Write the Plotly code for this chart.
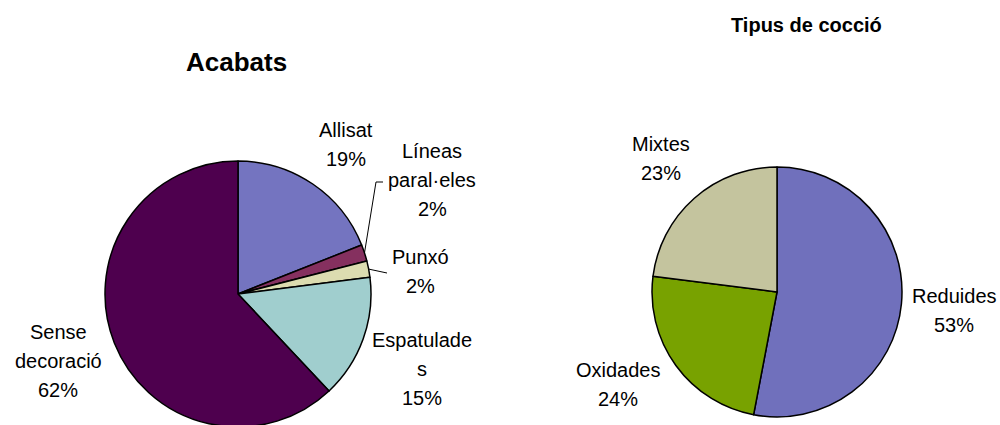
import math
import plotly.graph_objects as go

# ---- data ----
acabats_labels = ["Allisat", "Líneas paral·eles", "Punxó", "Espatulades", "Sense decoració"]
acabats_values = [19, 2, 2, 15, 62]
acabats_colors = ["#7474c0", "#85305f", "#dcdcb0", "#a0cece", "#4e004e"]

coccio_labels = ["Reduides", "Oxidades", "Mixtes"]
coccio_values = [53, 24, 23]
coccio_colors = ["#7070bc", "#78a200", "#c4c49e"]

# displayed (wrapped) label lines as they appear on the chart
acabats_disp = [["Allisat"], ["Líneas", "paral·eles"], ["Punxó"], ["Espatulade", "s"], ["Sense", "decoració"]]
coccio_disp = [["Reduides"], ["Oxidades"], ["Mixtes"]]

# ---- layout geometry (pixels) ----
W, H = 1000, 428
FONT = "Liberation Sans, Arial, sans-serif"
FS = 20
LH = 29

# label block centres (x, y of first line)
acabats_pos = [(346, 130), (432, 151), (420, 257), (422, 340), (58, 332)]
coccio_pos = [(954, 296), (618, 370), (661, 144)]

left_c, left_r = (238, 294), 133
right_c, right_r = (777, 292), 125


def dom(c, r):
    return dict(x=[(c[0] - r) / W, (c[0] + r) / W],
                y=[max(0, (H - c[1] - r) / H), (H - c[1] + r) / H])


fig = go.Figure()
fig.add_trace(go.Pie(labels=acabats_labels, values=acabats_values, sort=False,
                     direction="clockwise", rotation=0, textinfo="none",
                     marker=dict(colors=acabats_colors, line=dict(color="black", width=1.5)),
                     domain=dom(left_c, left_r), showlegend=False, hoverinfo="label+percent"))
fig.add_trace(go.Pie(labels=coccio_labels, values=coccio_values, sort=False,
                     direction="clockwise", rotation=0, textinfo="none",
                     marker=dict(colors=coccio_colors, line=dict(color="black", width=1.5)),
                     domain=dom(right_c, right_r), showlegend=False, hoverinfo="label+percent"))

annotations = []


def add_lines(lines, x, y):
    for i, t in enumerate(lines):
        annotations.append(dict(x=x / W, y=1 - (y + i * LH) / H, xref="paper", yref="paper",
                                text=t, showarrow=False, xanchor="center", yanchor="middle",
                                font=dict(family=FONT, size=FS, color="black")))


tot = sum(acabats_values)
for disp, v, (x, y) in zip(acabats_disp, acabats_values, acabats_pos):
    add_lines(disp + [f"{round(v / tot * 100)}%"], x, y)

tot2 = sum(coccio_values)
for disp, v, (x, y) in zip(coccio_disp, coccio_values, coccio_pos):
    add_lines(disp + [f"{round(v / tot2 * 100)}%"], x, y)

# titles
annotations.append(dict(x=236 / W, y=1 - 62 / H, xref="paper", yref="paper", text="<b>Acabats</b>",
                        showarrow=False, xanchor="center", yanchor="middle",
                        font=dict(family=FONT, size=26, color="black")))
annotations.append(dict(x=806 / W, y=1 - 25 / H, xref="paper", yref="paper", text="<b>Tipus de cocció</b>",
                        showarrow=False, xanchor="center", yanchor="middle",
                        font=dict(family=FONT, size=20, color="black")))

# leader lines for the two small slices, starting at the slice edge midpoints
shapes = []
cum = 0
leader_ends = {1: [(376, 182), (383, 182)], 2: [(387, 273)]}
for i, v in enumerate(acabats_values):
    mid = (cum + v / 2) / tot * 2 * math.pi
    cum += v
    if i in leader_ends:
        sx = left_c[0] + left_r * math.sin(mid)
        sy = left_c[1] - left_r * math.cos(mid)
        pts = [(sx, sy)] + leader_ends[i]
        path = "M " + " L ".join(f"{px / W},{1 - py / H}" for px, py in pts)
        shapes.append(dict(type="path", path=path, xref="paper", yref="paper",
                           line=dict(color="black", width=1)))

fig.update_layout(width=W, height=H, margin=dict(l=0, r=0, t=0, b=0),
                  paper_bgcolor="white", plot_bgcolor="white",
                  annotations=annotations, shapes=shapes)

fig.write_html("out.html", config={"displayModeBar": False},
               post_script="document.body.style.margin='0px';document.body.style.overflow='hidden';")
